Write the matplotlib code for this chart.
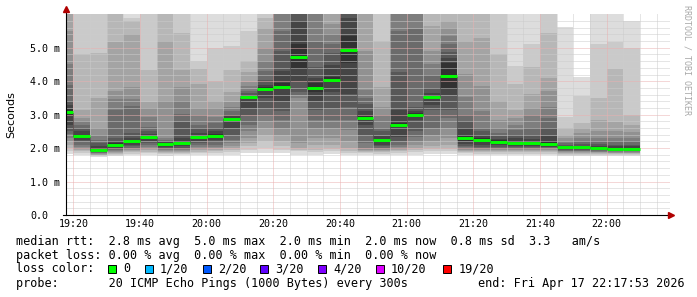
import numpy as np
import matplotlib
matplotlib.use("Agg")
import matplotlib.pyplot as plt
import matplotlib.dates as mdates
from matplotlib.patches import Rectangle
from datetime import datetime, timedelta

# ---------------- data ----------------
times = ["19:15", "19:20", "19:25", "19:30", "19:35", "19:40", "19:45", "19:50", "19:55", "20:00",
         "20:05", "20:10", "20:15", "20:20", "20:25", "20:30", "20:35", "20:40", "20:45", "20:50",
         "20:55", "21:00", "21:05", "21:10", "21:15", "21:20", "21:25", "21:30", "21:35", "21:40",
         "21:45", "21:50", "21:55", "22:00", "22:05"]

# sorted ping round-trip times per interval (ms), rank 1 (fastest) .. rank 20 (slowest)
ping01 = [1.82,1.80,1.74,1.75,1.78,1.80,1.77,1.78,1.80,1.80, 1.80,1.85,1.85,1.85,1.80,1.80,1.82,1.80,1.78,1.78,
          1.80,1.80,1.82,1.82,1.78,1.78,1.78,1.78,1.78,1.78, 1.76,1.76,1.76,1.76,1.76]
ping02 = [1.90,1.85,1.76,1.79,1.83,1.85,1.81,1.82,1.85,1.86, 1.88,1.95,2.00,1.95,1.90,1.88,1.90,1.86,1.84,1.83,
          1.85,1.87,1.90,1.90,1.84,1.83,1.83,1.83,1.83,1.83, 1.80,1.80,1.80,1.80,1.80]
ping03 = [2.00,1.90,1.78,1.82,1.87,1.89,1.85,1.86,1.89,1.90, 1.95,2.05,2.20,2.05,1.95,1.95,1.98,1.92,1.88,1.87,
          1.90,1.93,1.97,1.97,1.88,1.87,1.87,1.87,1.87,1.87, 1.83,1.83,1.83,1.82,1.82]
ping04 = [2.10,1.94,1.80,1.85,1.90,1.93,1.88,1.89,1.93,1.95, 2.00,2.15,2.40,2.20,2.00,2.10,2.10,2.00,1.92,1.90,
          1.94,2.00,2.05,2.10,1.92,1.90,1.90,1.90,1.90,1.90, 1.86,1.86,1.85,1.84,1.84]
ping05 = [2.20,1.98,1.82,1.88,1.93,1.97,1.91,1.92,1.97,1.99, 2.05,2.30,2.60,2.40,2.14,2.30,2.30,2.20,1.95,1.94,
          1.98,2.10,2.20,2.30,1.95,1.93,1.93,1.93,1.93,1.93, 1.88,1.88,1.87,1.86,1.86]
ping06 = [2.30,2.03,1.84,1.91,1.96,2.02,1.94,1.95,2.02,2.04, 2.15,2.50,2.80,2.60,3.50,2.60,2.60,2.53,2.00,1.97,
          2.02,2.20,2.40,2.60,1.98,1.96,1.96,1.96,1.96,1.96, 1.90,1.90,1.89,1.88,1.88]
ping07 = [2.42,2.10,1.86,1.94,2.00,2.08,1.97,1.98,2.08,2.10, 2.25,2.70,3.00,2.83,3.60,2.83,2.83,2.83,2.14,2.00,
          2.10,2.33,2.60,2.90,2.02,2.00,1.99,1.99,1.99,1.99, 1.92,1.92,1.91,1.90,1.90]
ping08 = [2.50,2.20,1.88,1.97,2.05,2.15,2.00,2.01,2.15,2.18, 2.40,3.00,3.20,3.10,3.67,3.13,3.20,3.22,2.38,2.05,
          2.20,2.50,3.13,3.13,2.06,2.04,2.03,2.02,2.02,2.02, 1.94,1.94,1.93,1.92,1.92]
ping09 = [2.70,2.25,1.90,2.00,2.10,2.22,2.03,2.05,2.22,2.25, 2.60,3.20,3.50,3.40,4.02,3.40,3.67,3.63,2.68,2.10,
          2.33,2.83,3.30,3.60,2.12,2.10,2.08,2.05,2.05,2.04, 1.96,1.96,1.95,1.94,1.93]
ping10 = [2.98,2.30,1.92,2.03,2.17,2.30,2.08,2.10,2.29,2.32, 2.84,3.48,3.74,3.80,4.37,3.67,3.98,4.53,2.83,2.18,
          2.63,2.93,3.50,3.77,2.22,2.20,2.15,2.10,2.10,2.06, 1.99,1.99,1.97,1.95,1.94]
ping11 = [3.16,2.40,2.00,2.15,2.25,2.36,2.14,2.20,2.37,2.42, 2.90,3.56,3.82,3.95,5.10,3.95,4.12,5.35,2.95,2.28,
          2.75,3.05,3.58,4.55,2.40,2.30,2.23,2.20,2.20,2.20, 2.05,2.05,2.03,2.01,2.00]
ping12 = [3.30,2.50,2.05,2.22,2.30,2.42,2.17,2.30,2.45,2.50, 2.95,3.60,3.90,4.30,5.80,4.10,4.47,5.90,3.10,2.35,
          3.13,3.12,3.65,4.70,2.60,2.40,2.28,2.30,2.28,2.35, 2.07,2.07,2.07,2.05,2.05]
ping13 = [3.42,2.60,2.15,2.30,2.44,2.50,2.20,2.78,2.60,2.60, 3.00,3.65,4.05,4.90,6.10,4.41,4.83,6.20,3.33,2.50,
          4.27,3.22,3.80,4.86,2.80,2.50,2.35,2.40,2.40,2.60, 2.10,2.12,2.12,2.10,2.10]
ping14 = [3.90,2.68,2.25,3.13,3.27,2.63,2.25,3.03,2.70,2.75, 3.10,3.72,4.30,5.50,6.50,5.16,5.12,6.50,3.50,2.60,
          5.50,5.56,4.20,5.12,3.00,2.60,2.45,2.55,2.60,2.90, 2.15,2.20,2.20,2.20,2.20]
ping15 = [4.50,2.80,2.40,3.48,3.48,2.93,2.30,3.42,3.00,2.93, 3.22,3.85,4.60,6.10,7.00,6.10,5.40,7.00,3.75,3.00,
          6.20,6.30,4.52,5.36,3.52,3.10,2.60,2.70,3.00,3.22, 2.20,2.30,2.30,2.30,2.30]
ping16 = [5.50,2.90,2.60,3.72,3.82,3.20,3.42,3.82,3.20,3.20, 3.37,3.97,5.00,6.50,7.50,6.50,5.70,7.50,4.91,3.22,
          6.50,6.60,4.91,5.60,4.22,3.87,2.83,2.89,3.20,3.72, 2.30,2.45,2.50,2.50,2.47]
ping17 = [6.20,3.13,3.50,5.16,5.40,3.37,5.20,4.32,3.93,3.42, 3.67,4.27,5.60,7.00,8.00,7.00,6.20,8.00,6.30,3.82,
          7.00,7.00,5.65,5.80,5.21,5.30,3.42,3.13,3.63,4.11, 2.40,2.60,2.83,2.77,2.68]
ping18 = [6.50,4.80,4.83,6.30,5.80,4.32,6.20,5.45,4.35,4.02, 4.32,4.61,5.90,7.50,8.50,7.50,6.50,8.50,6.60,5.21,
          7.50,7.50,6.20,6.20,6.20,6.20,4.82,3.93,4.41,5.45, 2.60,2.74,3.51,4.37,2.98]
ping19 = [7.00,6.50,6.50,6.80,5.88,6.30,6.50,6.30,4.60,5.00, 5.06,5.50,6.50,8.00,9.00,8.00,7.00,9.00,7.00,6.30,
          8.00,8.00,6.60,6.50,6.60,6.60,6.30,4.46,5.12,6.30, 2.92,3.57,5.12,5.16,5.00]
ping20 = [7.50,7.00,7.00,7.20,6.50,7.00,7.00,7.00,6.50,6.50, 6.50,6.50,7.00,8.50,9.50,9.00,8.00,9.50,7.50,7.00,
          9.00,9.00,7.00,7.00,7.00,7.00,7.00,6.50,6.50,7.00, 5.62,4.14,6.30,6.30,5.80]

median_rtt = [3.07,2.35,1.95,2.09,2.21,2.33,2.11,2.15,2.33,2.37, 2.87,3.52,3.78,3.84,4.73,3.81,4.05,4.94,2.89,2.23,
              2.69,2.99,3.54,4.16,2.31,2.25,2.19,2.15,2.15,2.13, 2.02,2.02,2.00,1.98,1.97]

y_ticks = [0, 1, 2, 3, 4, 5]
y_tick_labels = ["0.0", "1.0 m", "2.0 m", "3.0 m", "4.0 m", "5.0 m"]
x_tick_labels = ["19:20", "19:40", "20:00", "20:20", "20:40", "21:00", "21:20", "21:40", "22:00"]

rtt_stats = ["2.8 ms avg", "5.0 ms max", "2.0 ms min", "2.0 ms now", "0.8 ms sd", "3.3   am/s"]
loss_stats = ["0.00 % avg", "0.00 % max", "0.00 % min", "0.00 % now"]
loss_labels = ["0", "1/20", "2/20", "3/20", "4/20", "10/20", "19/20"]
loss_colors = ["#00ff00", "#00b8ff", "#0059ff", "#5e00ff", "#7e00ff", "#dd00ff", "#ff0000"]
probe_text = "20 ICMP Echo Pings (1000 Bytes) every 300s"
end_text = "end: Fri Apr 17 22:17:53 2026"
day = "2026-04-17"
t_start = "19:17:53"
t_end = "22:17:53"
step_min = 5

# ---------------- figure ----------------
W, H = 697, 297
MONO = "DejaVu Sans Mono"
fig = plt.figure(figsize=(W / 100, H / 100), dpi=100, facecolor="white")

ax_left, ax_bottom, ax_w, ax_h = 66.24, 215.0, 600.0, 200.7
ax = fig.add_axes([ax_left / W, 1 - ax_bottom / H, ax_w / W, ax_h / H])
ax.set_facecolor("white")
for s in ax.spines.values():
    s.set_visible(False)


def to_dt(hm):
    return datetime.strptime(day + " " + hm, "%Y-%m-%d %H:%M")


x0 = mdates.date2num(datetime.strptime(day + " " + t_start, "%Y-%m-%d %H:%M:%S"))
x1 = mdates.date2num(datetime.strptime(day + " " + t_end, "%Y-%m-%d %H:%M:%S"))
ax.set_xlim(x0, x1)
ax.set_ylim(0, 6.0)

col_x = np.array([mdates.date2num(to_dt(t)) for t in times])
width = step_min / 1440.0

pings = np.array([ping01, ping02, ping03, ping04, ping05, ping06, ping07, ping08, ping09, ping10,
                  ping11, ping12, ping13, ping14, ping15, ping16, ping17, ping18, ping19, ping20])
n = pings.shape[0]
half = n // 2
for ib in range(1, half + 1):
    g = int(190 / half * (half - ib)) + 50
    col = "#%02x%02x%02x" % (g, g, g)
    lo = pings[ib - 1]
    hi = pings[n - ib]
    ax.bar(col_x, hi - lo, width=width, bottom=lo, align="edge", color=col,
           linewidth=0, antialiased=False, zorder=1)

# grid (dotted)
minor_c = "#cccccc"
major_c = "#eab0b0"
dots = (0, (1, 1))
for v in np.arange(0.2, 6.0, 0.2):
    if abs(v - round(v)) < 1e-6:
        continue
    ax.plot([0, 1.005], [v, v], transform=ax.get_yaxis_transform(), color=minor_c,
            lw=0.72, ls=dots, zorder=2, clip_on=False)
for v in y_ticks[1:]:
    ax.plot([0, 1.005], [v, v], transform=ax.get_yaxis_transform(), color=major_c,
            lw=0.72, ls=dots, zorder=2, clip_on=False)

tick_dts = [to_dt(t) for t in x_tick_labels]
minor_t = to_dt("19:20")
while minor_t <= to_dt("22:15"):
    if minor_t not in tick_dts:
        ax.axvline(mdates.date2num(minor_t), color=minor_c, lw=0.72, ls=dots, zorder=2)
    minor_t += timedelta(minutes=step_min)
for t in tick_dts:
    ax.axvline(mdates.date2num(t), color=major_c, lw=0.72, ls=dots, zorder=2)

# median line
med = np.array(median_rtt)
ends = col_x + width
ax.vlines(ends[:-1], np.minimum(med[:-1], med[1:]), np.maximum(med[:-1], med[1:]),
          colors="#202020", linewidth=0.72, linestyles=dots, zorder=3)
ax.hlines(med, col_x, ends, colors=loss_colors[0], linewidth=2.1, zorder=4, capstyle="butt")

# axes lines + arrows
ax.plot([0, 0], [0, 1.02], transform=ax.transAxes, color="black", lw=0.8, clip_on=False, zorder=5)
ax.plot([-0.005, 1.005], [0, 0], transform=ax.transAxes, color="black", lw=0.8, clip_on=False, zorder=5)
ax.plot([0], [1.025], marker="^", ms=4, color="#b00000", mec="#b00000", transform=ax.transAxes,
        clip_on=False, zorder=6)
ax.plot([1.008], [0], marker=">", ms=4, color="#b00000", mec="#b00000", transform=ax.transAxes,
        clip_on=False, zorder=6)

# ticks
ax.set_yticks(y_ticks)
ax.set_yticklabels(y_tick_labels, fontfamily=MONO, fontsize=7.2, ha="left")
ax.tick_params(axis="y", length=0, pad=(ax_left - 30) * 0.72)
ax.set_xticks([mdates.date2num(t) for t in tick_dts])
ax.set_xticklabels(x_tick_labels, fontfamily=MONO, fontsize=7.2)
ax.tick_params(axis="x", length=0, pad=3)

fig.text(11 / W, 1 - 115 / H, "Seconds", rotation=90, ha="center", va="center",
         fontfamily="DejaVu Sans", fontsize=8)
fig.text(687 / W, 1 - 60 / H, "RRDTOOL / TOBI OETIKER", rotation=270, ha="center", va="center",
         fontfamily=MONO, fontsize=6, color="#a8a8a8")

# legend
LF = 8.5


def line_y(py):
    return 1 - py / H


fig.text(16 / W, line_y(241), "median rtt:  " + "  ".join(rtt_stats), fontfamily=MONO, fontsize=LF,
         va="center", ha="left")
fig.text(16 / W, line_y(255), "packet loss: " + "  ".join(loss_stats), fontfamily=MONO, fontsize=LF,
         va="center", ha="left")
fig.text(16 / W, line_y(269), "loss color:", fontfamily=MONO, fontsize=LF, va="center", ha="left")
box_x = [108.3, 145.0, 202.7, 260.0, 318.3, 376.0, 443.3]
for bx, lab, c in zip(box_x, loss_labels, loss_colors):
    fig.add_artist(Rectangle((bx / W, 1 - 272.5 / H), 8 / W, 8 / H, transform=fig.transFigure,
                             facecolor=c, edgecolor="black", lw=0.7))
    fig.text((bx + 15) / W, line_y(269), lab, fontfamily=MONO, fontsize=LF, va="center", ha="left")
fig.text(16 / W, line_y(283), "probe:       " + probe_text, fontfamily=MONO, fontsize=LF,
         va="center", ha="left")
fig.text(478.3 / W, line_y(283), end_text, fontfamily=MONO, fontsize=LF, va="center", ha="left")

fig.savefig("out.png", dpi=100, facecolor="white")
